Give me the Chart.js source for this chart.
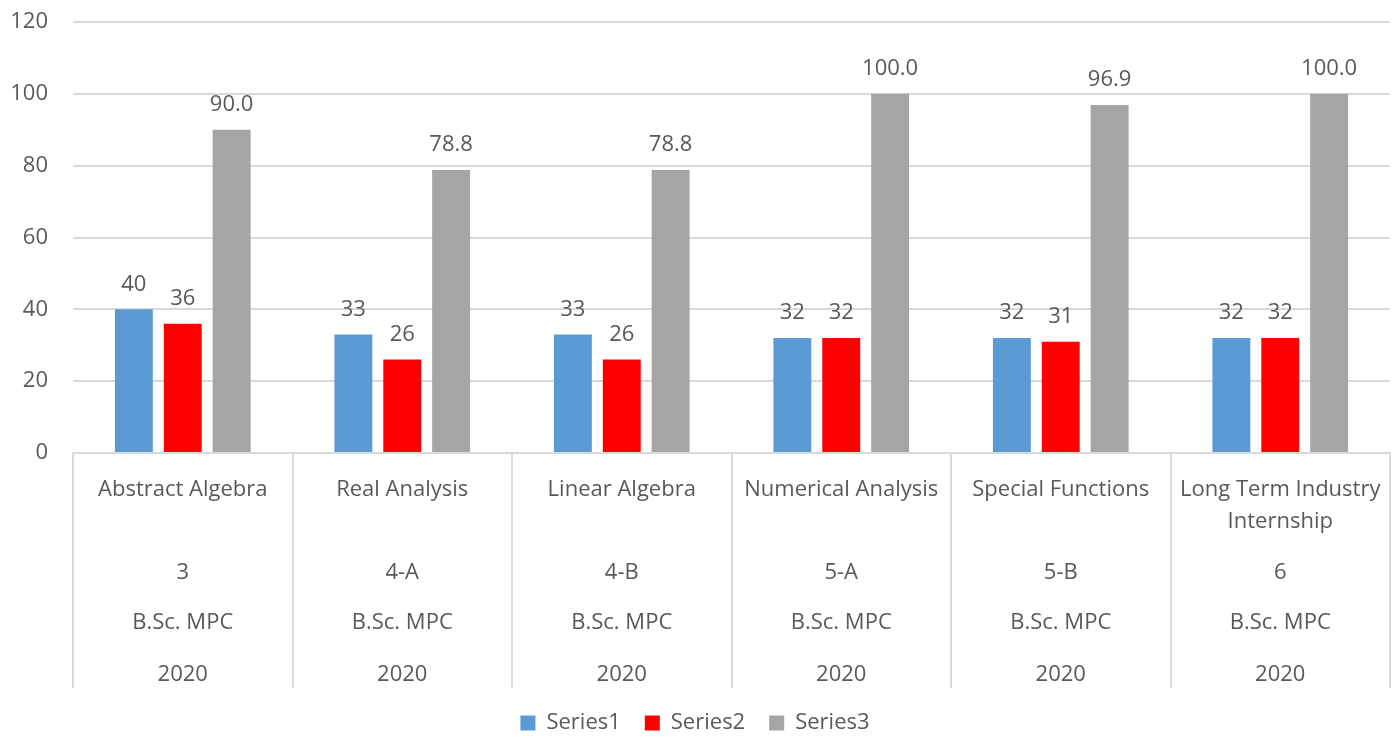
<!DOCTYPE html>
<html>
<head>
<meta charset="utf-8">
<script src="https://cdn.jsdelivr.net/npm/chart.js@4"></script>
<style>
  html, body { margin: 0; padding: 0; background: #fff; }
  #wrap { width: 1399px; height: 740px; }
</style>
</head>
<body>
<div id="wrap"><canvas id="myChart" width="1399" height="740"></canvas></div>
<script>
// DATA
const subjects = ["Abstract Algebra", "Real Analysis", "Linear Algebra", "Numerical Analysis", "Special Functions", "Long Term Industry Internship"];
const semesters = ["3", "4-A", "4-B", "5-A", "5-B", "6"];
const programs = ["B.Sc. MPC", "B.Sc. MPC", "B.Sc. MPC", "B.Sc. MPC", "B.Sc. MPC", "B.Sc. MPC"];
const years = ["2020", "2020", "2020", "2020", "2020", "2020"];

const series1 = [40, 33, 33, 32, 32, 32];
const series2 = [36, 26, 26, 32, 31, 32];
const series3 = [90.0, 78.8, 78.8, 100.0, 96.9, 100.0];

const yTicks = [0, 20, 40, 60, 80, 100, 120];

const FONT = "'Open Sans', 'Noto Sans', sans-serif";
const TEXT = "#595959";
const SIZE = 22;

// wrap a label into lines that fit the cell
function wrapText(ctx, text, maxW) {
    const words = text.split(" ");
    let lines = [];
    let cur = "";
    words.forEach(w => {
        const test = cur ? cur + " " + w : w;
        if (ctx.measureText(test).width > maxW && cur) {
            lines.push(cur);
            cur = w;
        } else {
            cur = test;
        }
    });
    if (cur) lines.push(cur);
    return lines;
}

// VALUE LABELS above bars
const valueLabels = {
    id: "valueLabels",
    afterDatasetsDraw(chart) {
        const ctx = chart.ctx;
        ctx.save();
        ctx.font = SIZE + "px " + FONT;
        ctx.fillStyle = TEXT;
        ctx.textAlign = "center";
        ctx.textBaseline = "middle";
        chart.data.datasets.forEach((ds, i) => {
            const meta = chart.getDatasetMeta(i);
            meta.data.forEach((bar, j) => {
                const v = ds.data[j];
                const txt = i === 2 ? v.toFixed(1) : String(v);
                ctx.fillText(txt, bar.x, bar.y - 25);
            });
        });
        ctx.restore();
    }
};

// MULTI-LEVEL CATEGORY LABELS
const levelLabels = {
    id: "levelLabels",
    afterDraw(chart) {
        const ctx = chart.ctx;
        const x = chart.scales.x;
        const top = chart.chartArea.bottom;
        ctx.save();
        ctx.font = SIZE + "px " + FONT;
        ctx.fillStyle = TEXT;
        ctx.textAlign = "center";
        ctx.textBaseline = "middle";
        const cellW = x.width / subjects.length;
        subjects.forEach((s, i) => {
            const cx = x.getPixelForValue(i);
            const lines = wrapText(ctx, s, cellW - 8);
            lines.forEach((ln, k) => ctx.fillText(ln, cx, top + 37 + k * 32));
            ctx.fillText(semesters[i], cx, top + 120);
            ctx.fillText(programs[i], cx, top + 170);
            ctx.fillText(years[i], cx, top + 222);
        });
        ctx.restore();
    }
};

const ctx = document.getElementById("myChart").getContext("2d");

new Chart(ctx, {
    type: "bar",
    data: {
        labels: subjects,
        datasets: [
            { label: "Series1", data: series1, backgroundColor: "#5B9BD5" },
            { label: "Series2", data: series2, backgroundColor: "#FF0000" },
            { label: "Series3", data: series3, backgroundColor: "#A5A5A5" }
        ]
    },
    options: {
        responsive: false,
        animation: false,
        devicePixelRatio: 1,
        datasets: {
            bar: { barPercentage: 0.776, categoryPercentage: 0.668 }
        },
        layout: { padding: { top: 22, right: 9, left: 0, bottom: -4 } },
        scales: {
            x: {
                grid: {
                    offset: true,
                    drawOnChartArea: false,
                    drawTicks: true,
                    tickLength: 235,
                    color: "#D9D9D9",
                    lineWidth: 2
                },
                border: { display: true, color: "#D9D9D9", width: 2 },
                ticks: { display: false },
                afterFit(scale) { scale.height = 235; }
            },
            y: {
                min: 0,
                max: 120,
                afterBuildTicks(scale) {
                    scale.ticks = yTicks.map(v => ({ value: v }));
                },
                grid: {
                    color: "#D9D9D9",
                    lineWidth: 2,
                    drawTicks: true,
                    tickLength: 25,
                    tickColor: "rgba(0,0,0,0)"
                },
                border: { display: false },
                ticks: {
                    color: TEXT,
                    font: { family: FONT, size: SIZE },
                    padding: 0
                },
                afterFit(scale) { scale.width = 73; }
            }
        },
        plugins: {
            legend: {
                position: "bottom",
                labels: {
                    color: TEXT,
                    font: { family: FONT, size: SIZE },
                    boxWidth: 15,
                    boxHeight: 15,
                    padding: 24
                }
            },
            tooltip: { enabled: false }
        }
    },
    plugins: [valueLabels, levelLabels]
});
</script>
</body>
</html>
